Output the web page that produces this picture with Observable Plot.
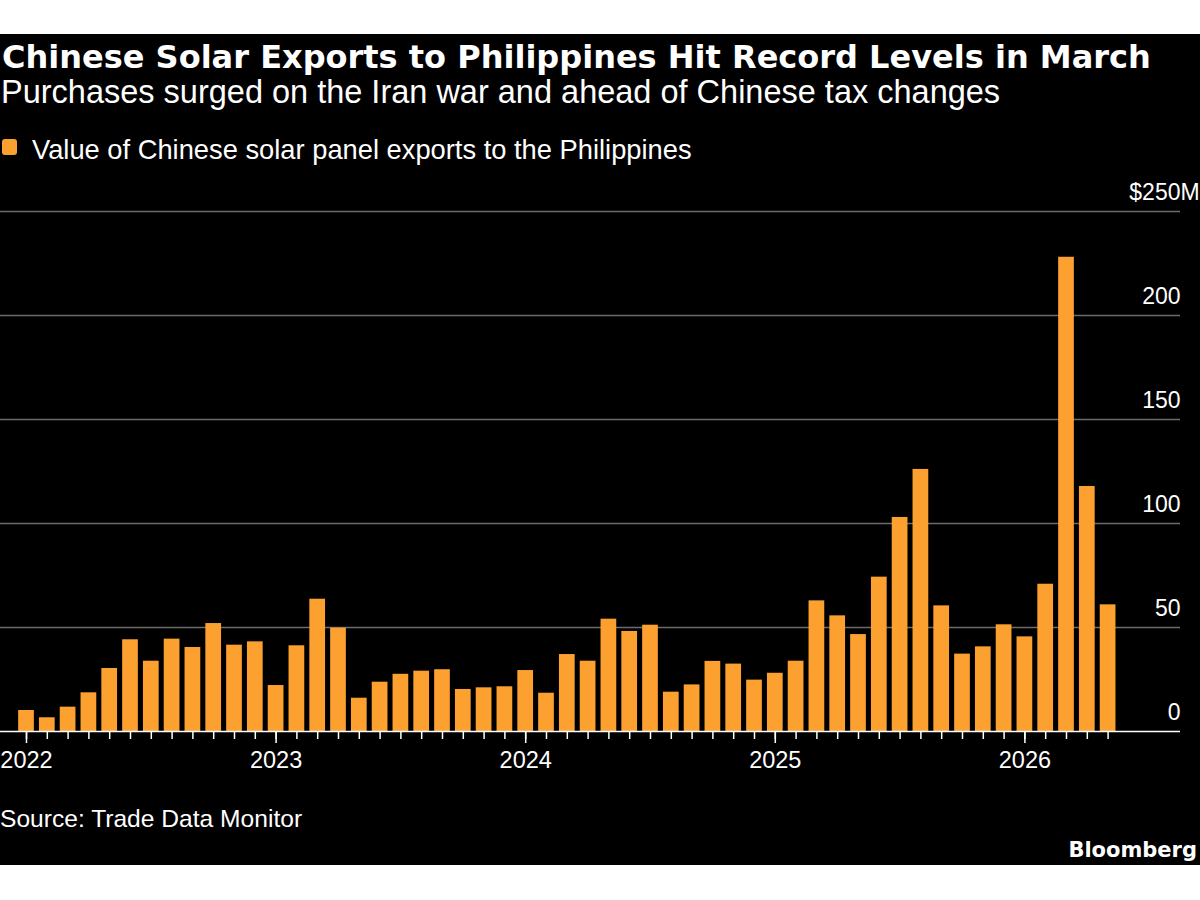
<!DOCTYPE html>
<html>
<head>
<meta charset="utf-8">
<script src="https://cdn.jsdelivr.net/npm/d3@7"></script>
<script src="https://cdn.jsdelivr.net/npm/@observablehq/plot@0.6"></script>
<style>
  html, body { margin: 0; padding: 0; background: #ffffff; }
  #page { position: relative; width: 1200px; height: 900px; overflow: hidden; }
  #panel { position: absolute; left: 0; top: 34px; width: 1200px; height: 831px; background: #000; }
  .t { position: absolute; white-space: nowrap; color: #fff; line-height: 1; }
  #title { left: 2px; top: 38px; font: bold 32px "DejaVu Sans", sans-serif; }
  #subtitle { left: 1px; top: 74px; font: 32.5px "Liberation Sans", Arial, sans-serif; }
  #legend { left: 2px; top: 134px; font: 27.3px "Liberation Sans", Arial, sans-serif; }
  #legend .sw { position: absolute; left: 0; top: 5px; width: 15px; height: 16px; border-radius: 3px; background: #fca130; }
  #legend .lab { position: absolute; left: 30px; top: 0; }
  #source { left: 0px; top: 805px; font: 24.6px "Liberation Sans", Arial, sans-serif; }
  #brand { right: 3px; top: 838px; font: bold 21px "DejaVu Sans", sans-serif; }
  #chart { position: absolute; left: 0; top: 170px; }
</style>
</head>
<body>
<div id="page">
  <div id="panel"></div>
  <div class="t" id="title">Chinese Solar Exports to Philippines Hit Record Levels in March</div>
  <div class="t" id="subtitle">Purchases surged on the Iran war and ahead of Chinese tax changes</div>
  <div class="t" id="legend"><span class="sw"></span><span class="lab">Value of Chinese solar panel exports to the Philippines</span></div>
  <div id="chart"></div>
  <div class="t" id="source">Source: Trade Data Monitor</div>
  <div class="t" id="brand">Bloomberg</div>
</div>
<script>
const months = [
  "2022-01","2022-02","2022-03","2022-04","2022-05","2022-06","2022-07","2022-08","2022-09","2022-10","2022-11","2022-12",
  "2023-01","2023-02","2023-03","2023-04","2023-05","2023-06","2023-07","2023-08","2023-09","2023-10","2023-11","2023-12",
  "2024-01","2024-02","2024-03","2024-04","2024-05","2024-06","2024-07","2024-08","2024-09","2024-10","2024-11","2024-12",
  "2025-01","2025-02","2025-03","2025-04","2025-05","2025-06","2025-07","2025-08","2025-09","2025-10","2025-11","2025-12",
  "2026-01","2026-02","2026-03","2026-04","2026-05"
];
const values = [
  10.1, 6.6, 11.7, 18.6, 30.3, 44.1, 33.8, 44.4, 40.4, 51.9, 41.5, 43.1,
  22.1, 41.2, 63.6, 49.7, 16.0, 23.7, 27.5, 29.0, 29.7, 20.2, 21.0, 21.5,
  29.3, 18.4, 37.0, 33.8, 54.0, 48.1, 51.1, 18.9, 22.4, 33.7, 32.4, 24.7,
  28.0, 33.8, 62.8, 55.6, 46.6, 74.2, 102.9, 126.0, 60.4, 37.2, 40.7, 51.3,
  45.5, 70.8, 228.0, 117.8, 60.9
];
const yTicks = [0, 50, 100, 150, 200, 250];
const yTickLabels = ["0", "50", "100", "150", "200", "$250"];
const yTopSuffix = "M";
const yearTicks = ["2022-01", "2023-01", "2024-01", "2025-01", "2026-01"];

const data = months.map((m, i) => ({month: m, value: values[i]}));

const orange = "#fca130";
const grid = "#6b6b6b";

const chart = Plot.plot({
  width: 1200,
  height: 620,
  marginLeft: 0,
  marginRight: 20,
  marginTop: 41,
  marginBottom: 59,
  style: {background: "transparent", color: "#ffffff", fontFamily: "'Liberation Sans', Arial, sans-serif", overflow: "visible"},
  x: {type: "band", domain: months, range: [15.6, 1118], paddingInner: 0.245, paddingOuter: 0.1225, round: false, axis: null},
  y: {domain: [0, 250], axis: null},
  marks: [
    Plot.ruleY(yTicks.filter(d => d > 0), {stroke: grid, strokeWidth: 1.5}),
    Plot.barY(data, {x: "month", y: "value", fill: orange}),
    Plot.ruleY([0], {stroke: "#ffffff", strokeWidth: 1.5}),
    Plot.axisX({ticks: months, tickSize: 8, tickFormat: () => "", stroke: "#ffffff", strokeWidth: 1.5, label: null}),
    Plot.axisX({ticks: yearTicks, tickSize: 12, tickPadding: 8, tickFormat: d => d.slice(0, 4), fontSize: 23.5, stroke: "#ffffff", strokeWidth: 1.5, fill: "#ffffff", label: null}),
    Plot.text(yTicks, {y: d => d, text: yTickLabels, frameAnchor: "right", textAnchor: "end", dy: -19, fontSize: 23, fill: "#ffffff"}),
    Plot.text([yTicks[yTicks.length - 1]], {y: d => d, text: [yTopSuffix], frameAnchor: "right", textAnchor: "start", dy: -19, fontSize: 23, fill: "#ffffff"})
  ]
});
document.getElementById("chart").appendChild(chart);
</script>
</body>
</html>
